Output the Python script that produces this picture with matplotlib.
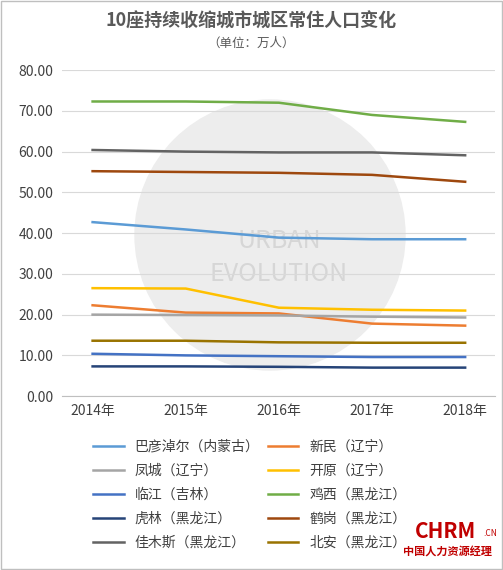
import matplotlib
matplotlib.use("Agg")
import matplotlib.pyplot as plt
from matplotlib.patches import Rectangle, Ellipse

plt.rcParams['font.family'] = ['Noto Sans CJK SC', 'DejaVu Sans']

years = ['2014年', '2015年', '2016年', '2017年', '2018年']
names = ['巴彦淖尔（内蒙古）', '新民（辽宁）', '凤城（辽宁）', '开原（辽宁）', '临江（吉林）',
         '鸡西（黑龙江）', '虎林（黑龙江）', '鹤岗（黑龙江）', '佳木斯（黑龙江）', '北安（黑龙江）']
bayannaoer = [42.7, 40.9, 38.9, 38.5, 38.5]
xinmin = [22.3, 20.5, 20.3, 17.8, 17.3]
fengcheng = [20.0, 19.9, 19.8, 19.5, 19.3]
kaiyuan = [26.5, 26.4, 21.7, 21.2, 21.0]
linjiang = [10.4, 10.0, 9.8, 9.6, 9.6]
jixi = [72.3, 72.3, 72.0, 69.0, 67.3]
hulin = [7.3, 7.3, 7.2, 7.0, 7.0]
hegang = [55.2, 55.0, 54.8, 54.3, 52.6]
jiamusi = [60.4, 60.0, 59.8, 59.8, 59.1]
beian = [13.6, 13.6, 13.2, 13.1, 13.1]
series = [bayannaoer, xinmin, fengcheng, kaiyuan, linjiang, jixi, hulin, hegang, jiamusi, beian]
colors = ['#5B9BD5', '#ED7D31', '#A5A5A5', '#FFC000', '#4472C4',
          '#70AD47', '#264478', '#9E480E', '#636363', '#997300']

fig = plt.figure(figsize=(5.03, 5.70), dpi=100)
fig.patches.append(Rectangle((0.002, 0.002), 0.996, 0.996, transform=fig.transFigure,
                             fill=False, edgecolor='#BFBFBF', lw=1))
ax = fig.add_axes([0.123, 0.305, 0.861, 0.572])

# faint watermark (circle in figure coords, drawn inside axes below lines)
ax.add_patch(Ellipse((270 / 503, 1 - 235 / 570), 270 / 503, 270 / 570,
                     transform=fig.transFigure, color='#EDEDED', zorder=0.2, clip_on=False))
ax.text(2, 38, 'URBAN', ha='center', va='center', fontsize=18, color='#D6D6D6', zorder=0.5)
ax.text(2, 30, 'EVOLUTION', ha='center', va='center', fontsize=18, color='#D6D6D6', zorder=0.5)

x = list(range(len(years)))
handles = []
for s, c, n in zip(series, colors, names):
    h, = ax.plot(x, s, color=c, lw=1.8, label=n, zorder=3)
    handles.append(h)

ax.set_xlim(-0.33, 4.32)
ax.set_ylim(0, 80)
ax.set_yticks(range(0, 81, 10))
ax.set_yticklabels([f'{v:.2f}' for v in range(0, 81, 10)], fontsize=10, color='#404040')
ax.set_xticks(x)
ax.set_xticklabels(years, fontsize=10, color='#404040')
ax.grid(axis='y', color='#D9D9D9', lw=0.8, zorder=1)
for sp in ['top', 'right', 'left']:
    ax.spines[sp].set_visible(False)
ax.spines['bottom'].set_color('#BFBFBF')
ax.tick_params(length=0, pad=6)

fig.text(0.5, 0.963, '10座持续收缩城市城区常住人口变化', ha='center', va='center',
         fontsize=13, fontweight='bold', color='#595959')
fig.text(0.5, 0.924, '（单位：万人）', ha='center', va='center', fontsize=9, color='#595959')

order = [0, 2, 4, 6, 8, 1, 3, 5, 7, 9]
fig.legend([handles[i] for i in order], [names[i] for i in order], ncol=2,
           loc='upper left', bbox_to_anchor=(0.16, 0.25), frameon=False,
           fontsize=10, handlelength=2.2, columnspacing=0.6, labelspacing=0.72,
           labelcolor='#404040')

fig.text(0.885, 0.068, 'CHRM', ha='center', va='center', fontsize=15, fontweight='bold', color='#C00000')
fig.text(0.975, 0.064, '.CN', ha='center', va='center', fontsize=6, color='#C00000')
fig.text(0.89, 0.032, '中国人力资源经理', ha='center', va='center', fontsize=8, fontweight='bold', color='#C00000')

fig.savefig('out.png', dpi=100)
